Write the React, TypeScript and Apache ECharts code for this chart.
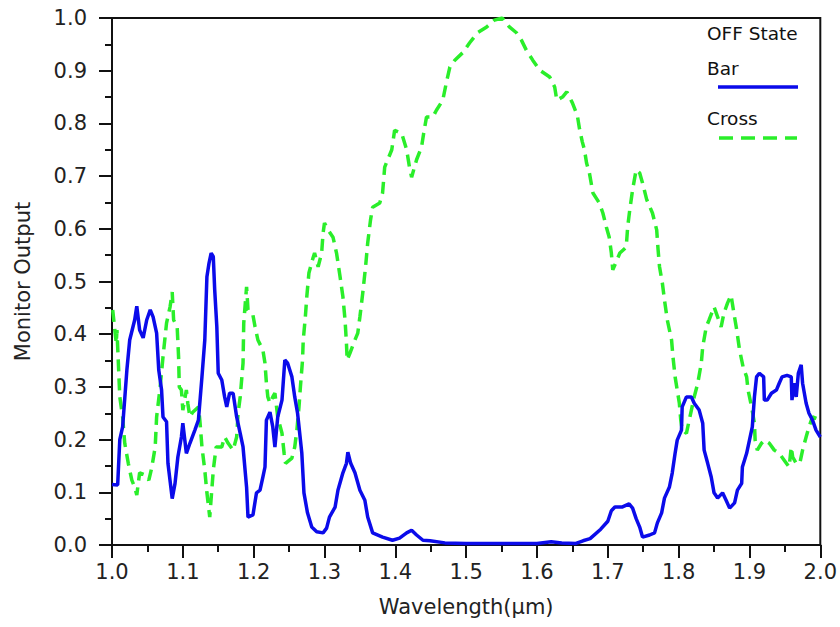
import React, { useEffect, useRef } from "react";
import * as echarts from "echarts";

// Wavelength (µm) and monitor output for the "Bar" (solid blue) series
const barWavelength = [
  1.0, 1.008, 1.011, 1.015, 1.021, 1.025, 1.032, 1.035, 1.039, 1.044, 1.049, 1.054, 1.058, 1.063, 1.066, 1.07,
  1.072, 1.077, 1.079, 1.085, 1.089, 1.093, 1.098, 1.1, 1.105, 1.11, 1.117, 1.122, 1.127, 1.131, 1.134, 1.137,
  1.14, 1.143, 1.145, 1.148, 1.15, 1.155, 1.159, 1.162, 1.166, 1.171, 1.176, 1.181, 1.185, 1.19, 1.192, 1.199,
  1.204, 1.209, 1.213, 1.216, 1.218, 1.223, 1.227, 1.23, 1.234, 1.24, 1.244, 1.248, 1.254, 1.258, 1.262, 1.268,
  1.271, 1.276, 1.282, 1.289, 1.298, 1.303, 1.307, 1.315, 1.319, 1.326, 1.331, 1.333, 1.337, 1.343, 1.35, 1.357,
  1.361, 1.368, 1.382, 1.396, 1.406, 1.416, 1.423, 1.43, 1.439, 1.449, 1.47, 1.5, 1.55, 1.6, 1.62, 1.635,
  1.655, 1.665, 1.675, 1.69, 1.7, 1.705, 1.71, 1.72, 1.73, 1.735, 1.74, 1.745, 1.749, 1.759, 1.766, 1.77,
  1.776, 1.78, 1.787, 1.791, 1.795, 1.798, 1.804, 1.805, 1.811, 1.818, 1.822, 1.829, 1.834, 1.836, 1.841, 1.846,
  1.85, 1.855, 1.862, 1.867, 1.872, 1.879, 1.883, 1.889, 1.89, 1.896, 1.9, 1.904, 1.907, 1.91, 1.914, 1.92,
  1.921, 1.925, 1.931, 1.938, 1.942, 1.946, 1.953, 1.959, 1.96, 1.963, 1.966, 1.969, 1.973, 1.975, 1.98, 1.984,
  1.989, 1.994, 2.0,
];
const barOutput = [
  0.115, 0.114, 0.2, 0.224, 0.332, 0.389, 0.427, 0.453, 0.408, 0.393, 0.427, 0.446, 0.433, 0.402, 0.332, 0.294,
  0.243, 0.234, 0.155, 0.088, 0.117, 0.167, 0.205, 0.231, 0.174, 0.193, 0.218, 0.237, 0.319, 0.389, 0.509, 0.535,
  0.554, 0.547, 0.484, 0.414, 0.326, 0.313, 0.281, 0.262, 0.288, 0.288, 0.243, 0.212, 0.186, 0.11, 0.053, 0.057,
  0.099, 0.104, 0.129, 0.148, 0.237, 0.252, 0.224, 0.186, 0.243, 0.275, 0.351, 0.345, 0.319, 0.281, 0.25, 0.174,
  0.099, 0.061, 0.034, 0.025, 0.023, 0.032, 0.053, 0.072, 0.104, 0.137, 0.155, 0.176, 0.155, 0.137, 0.104, 0.085,
  0.053, 0.023, 0.015, 0.009, 0.013, 0.023, 0.028, 0.019, 0.009, 0.008, 0.004, 0.003, 0.003, 0.003, 0.006, 0.004,
  0.003, 0.008, 0.012, 0.03, 0.045, 0.065, 0.072, 0.072, 0.078, 0.07, 0.05, 0.034, 0.015, 0.019, 0.023, 0.042,
  0.061, 0.089, 0.11, 0.137, 0.174, 0.199, 0.218, 0.262, 0.281, 0.281, 0.269, 0.256, 0.231, 0.18, 0.155, 0.129,
  0.099, 0.089, 0.099, 0.085, 0.07, 0.08, 0.104, 0.117, 0.148, 0.174, 0.199, 0.224, 0.281, 0.319, 0.326, 0.319,
  0.275, 0.275, 0.288, 0.294, 0.307, 0.319, 0.322, 0.319, 0.275, 0.307, 0.281, 0.326, 0.342, 0.307, 0.269, 0.25,
  0.237, 0.218, 0.205,
];

// Wavelength (µm) and monitor output for the "Cross" (dashed green) series
const crossWavelength = [
  1.001, 1.004, 1.006, 1.007, 1.009, 1.011, 1.015, 1.018, 1.023, 1.028, 1.032, 1.035, 1.039, 1.047, 1.052, 1.056,
  1.061, 1.063, 1.068, 1.072, 1.077, 1.082, 1.085, 1.087, 1.092, 1.094, 1.095, 1.098, 1.1, 1.105, 1.107, 1.11,
  1.114, 1.122, 1.124, 1.127, 1.131, 1.134, 1.138, 1.143, 1.147, 1.155, 1.159, 1.164, 1.171, 1.176, 1.178, 1.181,
  1.185, 1.186, 1.19, 1.192, 1.199, 1.202, 1.206, 1.213, 1.216, 1.218, 1.22, 1.223, 1.227, 1.23, 1.234, 1.24,
  1.243, 1.245, 1.254, 1.258, 1.261, 1.264, 1.266, 1.269, 1.27, 1.273, 1.275, 1.278, 1.283, 1.286, 1.291, 1.296,
  1.298, 1.3, 1.305, 1.312, 1.317, 1.322, 1.326, 1.329, 1.331, 1.332, 1.336, 1.343, 1.347, 1.35, 1.354, 1.358,
  1.361, 1.365, 1.368, 1.378, 1.382, 1.385, 1.395, 1.399, 1.409, 1.416, 1.42, 1.423, 1.43, 1.437, 1.44, 1.444,
  1.453, 1.458, 1.467, 1.472, 1.477, 1.484, 1.495, 1.505, 1.516, 1.529, 1.54, 1.551, 1.561, 1.571, 1.578, 1.585,
  1.594, 1.604, 1.618, 1.625, 1.628, 1.636, 1.642, 1.65, 1.657, 1.66, 1.664, 1.667, 1.67, 1.674, 1.679, 1.688,
  1.693, 1.698, 1.702, 1.705, 1.707, 1.717, 1.726, 1.728, 1.731, 1.735, 1.74, 1.745, 1.749, 1.755, 1.763, 1.769,
  1.771, 1.773, 1.777, 1.78, 1.784, 1.79, 1.792, 1.795, 1.798, 1.801, 1.803, 1.805, 1.811, 1.814, 1.818, 1.822,
  1.827, 1.832, 1.834, 1.839, 1.843, 1.85, 1.855, 1.86, 1.864, 1.869, 1.874, 1.878, 1.882, 1.886, 1.891, 1.896,
  1.898, 1.903, 1.907, 1.908, 1.911, 1.917, 1.921, 1.928, 1.935, 1.942, 1.949, 1.956, 1.959, 1.961, 1.966, 1.971,
  1.975, 1.98, 1.984, 1.989, 1.995, 2.0,
];
const crossOutput = [
  0.446, 0.408, 0.383, 0.408, 0.345, 0.281, 0.243, 0.193, 0.155, 0.123, 0.11, 0.095, 0.137, 0.133, 0.123, 0.146,
  0.186, 0.243, 0.3, 0.357, 0.421, 0.452, 0.48, 0.427, 0.414, 0.357, 0.3, 0.294, 0.256, 0.294, 0.269, 0.243,
  0.252, 0.262, 0.237, 0.186, 0.142, 0.099, 0.053, 0.142, 0.186, 0.186, 0.205, 0.193, 0.18, 0.205, 0.25, 0.281,
  0.345, 0.421, 0.49, 0.446, 0.436, 0.414, 0.389, 0.37, 0.345, 0.307, 0.281, 0.269, 0.281, 0.288, 0.243, 0.212,
  0.174, 0.155, 0.165, 0.186, 0.218, 0.262, 0.3, 0.351, 0.389, 0.433, 0.471, 0.516, 0.541, 0.554, 0.528, 0.554,
  0.592, 0.611, 0.598, 0.584, 0.554, 0.509, 0.471, 0.427, 0.383, 0.351, 0.364, 0.389, 0.402, 0.433, 0.478, 0.528,
  0.573, 0.617, 0.641, 0.649, 0.668, 0.717, 0.75, 0.787, 0.781, 0.75, 0.717, 0.698, 0.731, 0.755, 0.781, 0.812,
  0.812, 0.825, 0.844, 0.877, 0.907, 0.92, 0.934, 0.953, 0.972, 0.983, 0.996, 1.0, 0.983, 0.972, 0.958, 0.939,
  0.92, 0.901, 0.888, 0.869, 0.844, 0.85, 0.86, 0.839, 0.815, 0.79, 0.765, 0.75, 0.725, 0.706, 0.668, 0.649,
  0.63, 0.603, 0.584, 0.554, 0.522, 0.554, 0.565, 0.603, 0.636, 0.674, 0.712, 0.706, 0.687, 0.655, 0.63, 0.598,
  0.56, 0.528, 0.497, 0.465, 0.427, 0.389, 0.357, 0.319, 0.294, 0.269, 0.237, 0.218, 0.212, 0.231, 0.256, 0.281,
  0.307, 0.345, 0.376, 0.414, 0.427, 0.452, 0.433, 0.414, 0.44, 0.459, 0.474, 0.44, 0.408, 0.37, 0.338, 0.319,
  0.294, 0.262, 0.231, 0.199, 0.18, 0.193, 0.199, 0.193, 0.18, 0.174, 0.161, 0.148, 0.186, 0.167, 0.155, 0.155,
  0.18, 0.205, 0.224, 0.243, 0.24, 0.24,
];

const legendTitle = "OFF State";
const seriesNames = ["Bar", "Cross"];
const xAxisTitle = "Wavelength(μm)";
const yAxisTitle = "Monitor Output";

const BLUE = "#0b0bea";
const GREEN = "#2aee2a";
const FONT = "DejaVu Sans";

export default function App() {
  const ref = useRef<HTMLDivElement>(null);

  useEffect(() => {
    document.body.style.margin = "0";
    const chart = echarts.init(ref.current!, null, { renderer: "svg" });
    const barData = barWavelength.map((x, i) => [x, barOutput[i]]);
    const crossData = crossWavelength.map((x, i) => [x, crossOutput[i]]);

    const axisCommon = {
      axisLine: { show: true, onZero: false, lineStyle: { color: "#111", width: 2 } },
      axisTick: { show: true, inside: false, length: 13, lineStyle: { color: "#111", width: 2 } },
      minorTick: { show: true, splitNumber: 2, length: 7, lineStyle: { color: "#111", width: 2 } },
      splitLine: { show: false },
      minorSplitLine: { show: false },
      axisLabel: {
        color: "#222",
        fontFamily: FONT,
        fontSize: 21,
        formatter: (v: number) => v.toFixed(1),
      },
      nameTextStyle: { color: "#222", fontFamily: FONT, fontSize: 21 },
    };

    chart.setOption({
      animation: false,
      backgroundColor: "#fff",
      grid: {
        left: 112,
        right: 19,
        top: 18,
        bottom: 82,
        show: true,
        borderColor: "#111",
        borderWidth: 2,
        backgroundColor: "transparent",
      },
      xAxis: {
        type: "value",
        min: 1.0,
        max: 2.0,
        interval: 0.1,
        name: xAxisTitle,
        nameLocation: "middle",
        nameGap: 51,
        ...axisCommon,
        axisLabel: { ...axisCommon.axisLabel, margin: 16 },
      },
      yAxis: {
        type: "value",
        min: 0,
        max: 1.0,
        interval: 0.1,
        name: yAxisTitle,
        nameLocation: "middle",
        nameGap: 79,
        ...axisCommon,
        axisLabel: { ...axisCommon.axisLabel, margin: 25 },
      },
      series: [
        {
          name: seriesNames[0],
          type: "line",
          data: barData,
          showSymbol: false,
          symbol: "none",
          lineStyle: { color: BLUE, width: 3.5 },
          z: 3,
        },
        {
          name: seriesNames[1],
          type: "line",
          data: crossData,
          showSymbol: false,
          symbol: "none",
          lineStyle: { color: GREEN, width: 3.5, type: [12, 7] },
          z: 2,
        },
      ],
      graphic: [
        {
          type: "text",
          left: 707,
          top: 24,
          style: { text: legendTitle, fill: "#111", font: `18.5px "${FONT}"` },
        },
        {
          type: "text",
          left: 707,
          top: 59,
          style: { text: seriesNames[0], fill: "#111", font: `18.5px "${FONT}"` },
        },
        {
          type: "line",
          shape: { x1: 718, y1: 87, x2: 798, y2: 87 },
          style: { stroke: BLUE, lineWidth: 3.5 },
        },
        {
          type: "text",
          left: 707,
          top: 109,
          style: { text: seriesNames[1], fill: "#111", font: `18.5px "${FONT}"` },
        },
        {
          type: "line",
          shape: { x1: 719, y1: 138, x2: 797, y2: 138 },
          style: { stroke: GREEN, lineWidth: 3.5, lineDash: [14, 8] },
        },
      ],
    });
    return () => chart.dispose();
  }, []);

  return <div ref={ref} style={{ width: 840, height: 627, position: "absolute", left: 0, top: 0 }} />;
}
